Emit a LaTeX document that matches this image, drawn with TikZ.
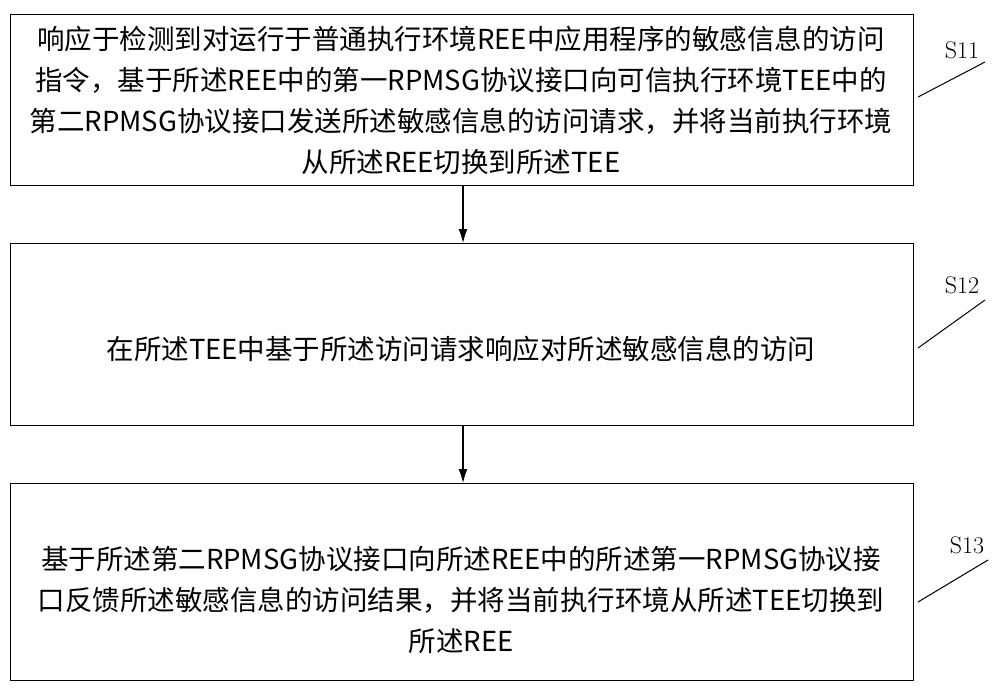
\documentclass[tikz,border=0pt]{standalone}
\usepackage{fontspec}
\newfontfamily\cjk{Noto Sans CJK SC}
\usetikzlibrary{arrows.meta}
\begin{document}
\begin{tikzpicture}[x=1pt,y=-1pt,
  box/.style={draw,line width=1pt},
  txt/.style={font=\cjk\fontsize{27.5}{41}\selectfont,align=center},
  lab/.style={font=\fontsize{24}{26}\selectfont},
  arr/.style={-{Latex[length=14pt,width=9pt]},line width=1.3pt}]
\useasboundingbox (0,0) rectangle (1000,690);
\draw[box] (10,15) rectangle (913,185);
\draw[box] (10,243) rectangle (913,425);
\draw[box] (10,483) rectangle (913,680);
\coordinate (b1) at (463,185); \coordinate (t2) at (463,243);
\coordinate (b2) at (463,425); \coordinate (t3) at (463,483);
\node[txt] (n1) at (461,100) {响应于检测到对运行于普通执行环境REE中应用程序的敏感信息的访问\\指令，基于所述REE中的第一RPMSG协议接口向可信执行环境TEE中的\\第二RPMSG协议接口发送所述敏感信息的访问请求，并将当前执行环境\\从所述REE切换到所述TEE};
\node[txt] (n2) at (461,349) {在所述TEE中基于所述访问请求响应对所述敏感信息的访问};
\node[txt] (n3) at (461,600) {基于所述第二RPMSG协议接口向所述REE中的所述第一RPMSG协议接\\口反馈所述敏感信息的访问结果，并将当前执行环境从所述TEE切换到\\所述REE};
\draw[arr] (b1) -- (t2);
\draw[arr] (b2) -- (t3);
\node[lab] (s1) at (962,50) {S11};
\node[lab] (s2) at (962,285) {S12};
\node[lab] (s3) at (967,545) {S13};
\coordinate (l1a) at (918,97); \coordinate (l1b) at (985,62);
\coordinate (l2a) at (918,348); \coordinate (l2b) at (985,300);
\coordinate (l3a) at (918,602); \coordinate (l3b) at (988,560);
\draw[line width=1pt] (l1a) -- (l1b);
\draw[line width=1pt] (l2a) -- (l2b);
\draw[line width=1pt] (l3a) -- (l3b);
\end{tikzpicture}
\end{document}
